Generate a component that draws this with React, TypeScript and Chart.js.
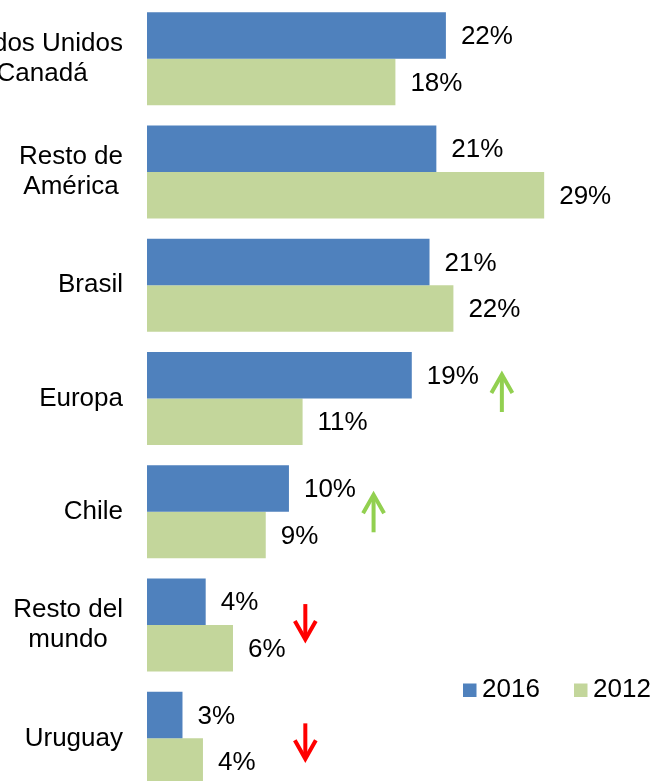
import React, { useEffect, useRef } from 'react';
import { Chart, registerables } from 'chart.js';

Chart.register(...registerables);

const categories: string[][] = [
  ['Estados Unidos', 'y Canadá'],
  ['Resto de', 'América'],
  ['Brasil'],
  ['Europa'],
  ['Chile'],
  ['Resto del', 'mundo'],
  ['Uruguay'],
];
const seriesNames = ['2016', '2012'];
const values2016 = [21.9, 21.2, 20.7, 19.4, 10.4, 4.3, 2.6];
const values2012 = [18.2, 29.1, 22.45, 11.4, 8.7, 6.3, 4.1];
const seriesColors = ['#4F81BD', '#C3D69B'];

// trend arrows (annotation): category index, x position in data units, direction
const arrowCategory = [3, 4, 5, 6];
const arrowValue = [26, 16.6, 11.6, 11.6];
const arrowDirection = ['up', 'up', 'down', 'down'];
const arrowShift = [-6, 1, -2.5, 3.5];

const FONT = '26px "Liberation Sans", Arial, Helvetica, sans-serif';

const categoryLabelPlugin = {
  id: 'categoryLabels',
  afterDraw(chart: any) {
    const ctx = chart.ctx;
    const yScale = chart.scales.y;
    const area = chart.chartArea;
    ctx.save();
    ctx.font = FONT;
    ctx.fillStyle = '#000';
    ctx.textAlign = 'center';
    ctx.textBaseline = 'middle';
    const lineH = 30;
    (chart.data.labels as string[][]).forEach((lines, i) => {
      const cy = yScale.getPixelForValue(i);
      const widest = Math.max(...lines.map((l) => ctx.measureText(l).width));
      const right = area.left - 24;
      const cx = right - widest / 2;
      lines.forEach((l, j) => {
        const y = cy + (j - (lines.length - 1) / 2) * lineH;
        ctx.fillText(l, cx, y);
      });
    });
    ctx.restore();
  },
};

const valueLabelPlugin = {
  id: 'valueLabels',
  afterDatasetsDraw(chart: any) {
    const ctx = chart.ctx;
    ctx.save();
    ctx.font = FONT;
    ctx.fillStyle = '#000';
    ctx.textAlign = 'left';
    ctx.textBaseline = 'middle';
    chart.data.datasets.forEach((ds: any, di: number) => {
      const meta = chart.getDatasetMeta(di);
      meta.data.forEach((bar: any, i: number) => {
        const txt = Math.round(ds.data[i]) + '%';
        ctx.fillText(txt, bar.x + 15, bar.y + 1.5);
      });
    });
    ctx.restore();
  },
};

const arrowPlugin = {
  id: 'trendArrows',
  afterDraw(chart: any) {
    const ctx = chart.ctx;
    const xs = chart.scales.x;
    const ys = chart.scales.y;
    ctx.save();
    ctx.lineWidth = 4;
    ctx.lineCap = 'butt';
    ctx.lineJoin = 'miter';
    arrowCategory.forEach((cat, k) => {
      const up = arrowDirection[k] === 'up';
      const x = xs.getPixelForValue(arrowValue[k]);
      const cy = ys.getPixelForValue(cat) + arrowShift[k];
      const half = up ? 19.5 : 18.5;
      const tip = up ? cy - half : cy + half;
      const tail = up ? cy + half : cy - half;
      const dir = up ? 1 : -1;
      ctx.strokeStyle = up ? '#92D050' : '#FF0000';
      ctx.beginPath();
      ctx.moveTo(x, tail);
      ctx.lineTo(x, tip + dir * 2);
      ctx.stroke();
      ctx.beginPath();
      ctx.moveTo(x - 10.5, tip + dir * 20);
      ctx.lineTo(x, tip + dir * 1.5);
      ctx.lineTo(x + 10.5, tip + dir * 20);
      ctx.stroke();
    });
    ctx.restore();
  },
};

const legendPlugin = {
  id: 'customLegend',
  afterDraw(chart: any) {
    const ctx = chart.ctx;
    ctx.save();
    ctx.font = FONT;
    ctx.fillStyle = '#000';
    ctx.textAlign = 'left';
    ctx.textBaseline = 'alphabetic';
    const startX = [463, 574];
    chart.data.datasets.forEach((ds: any, i: number) => {
      const x0 = startX[i];
      ctx.fillStyle = ds.backgroundColor;
      ctx.fillRect(x0, 683.5, 13.5, 13.5);
      ctx.fillStyle = '#000';
      ctx.fillText(ds.label, x0 + 19, 697);
    });
    ctx.restore();
  },
};

export default function App() {
  const ref = useRef<HTMLCanvasElement | null>(null);
  useEffect(() => {
    if (!ref.current) return;
    const chart = new Chart(ref.current, {
      type: 'bar',
      data: {
        labels: categories as any,
        datasets: [
          {
            label: seriesNames[0],
            data: values2016,
            backgroundColor: seriesColors[0],
            borderWidth: 0,
            categoryPercentage: 0.821,
            barPercentage: 1,
          },
          {
            label: seriesNames[1],
            data: values2012,
            backgroundColor: seriesColors[1],
            borderWidth: 0,
            categoryPercentage: 0.821,
            barPercentage: 1,
          },
        ],
      },
      options: {
        indexAxis: 'y',
        animation: false,
        responsive: false,
        devicePixelRatio: 1,
        layout: { padding: { left: 147, right: 4, top: 2, bottom: 5 } },
        plugins: {
          legend: { display: false },
          tooltip: { enabled: false },
        },
        scales: {
          x: { display: false, min: 0, max: 37 },
          y: { display: false },
        },
      },
      plugins: [categoryLabelPlugin, valueLabelPlugin, arrowPlugin, legendPlugin],
    });
    return () => chart.destroy();
  }, []);
  return (
    <div
      style={{
        position: 'fixed',
        left: 0,
        top: 0,
        width: 656,
        height: 781,
        overflow: 'hidden',
        background: '#fff',
      }}
    >
      <canvas ref={ref} width={656} height={800} style={{ display: 'block', width: 656, height: 800 }} />
    </div>
  );
}
